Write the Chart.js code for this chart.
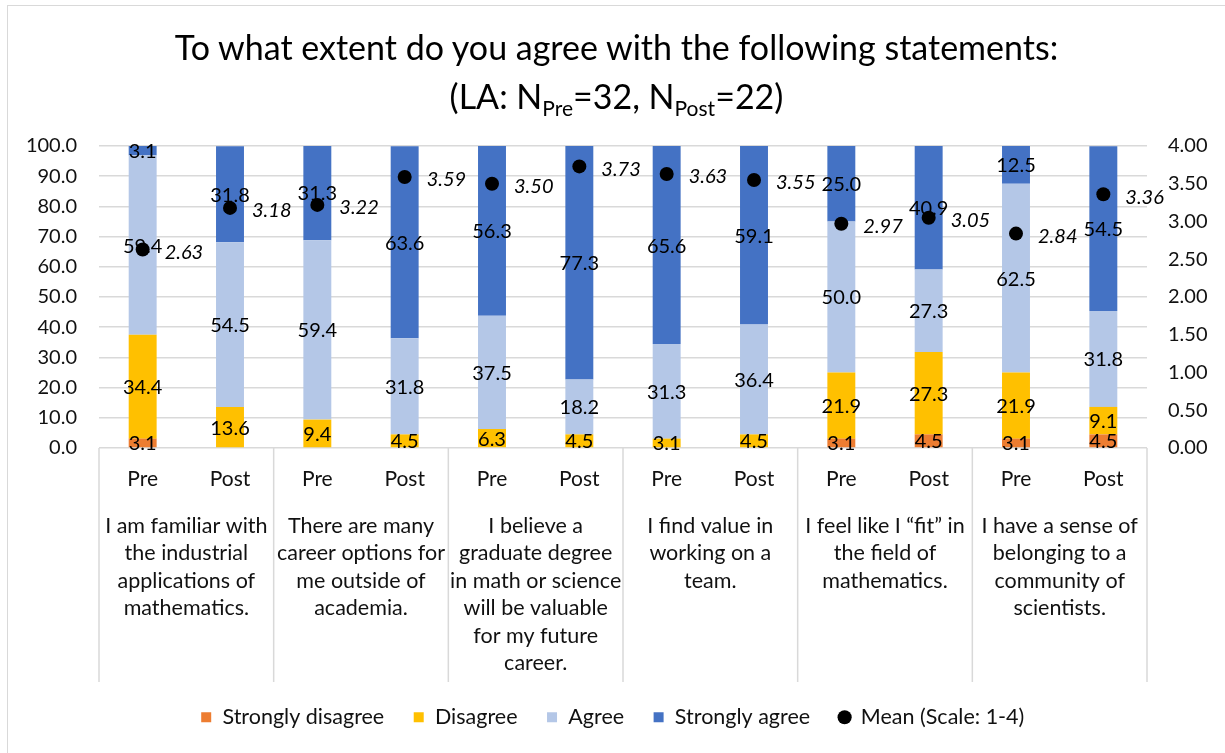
<!DOCTYPE html>
<html>
<head>
<meta charset="utf-8">
<script src="https://cdn.jsdelivr.net/npm/chart.js@4/dist/chart.umd.min.js"></script>
<style>
  html, body { margin: 0; padding: 0; background: #fff; }
  #wrap { position: relative; width: 1225px; height: 753px; overflow: hidden; background: #fff; }
  #frame { position: absolute; left: 7px; top: 5px; width: 1300px; height: 800px;
           border-left: 1.5px solid #d9d9d9; border-top: 1.5px solid #d9d9d9; }
  #title { position: absolute; left: 0; top: 22px; width: 1233px; text-align: center;
           font-family: Lato, sans-serif; font-size: 34px; line-height: 49px; color: #000; }
  #title sub { font-size: 21px; line-height: 0; vertical-align: -7px; }
  canvas { position: absolute; left: 0; top: 0; }
</style>
</head>
<body>
<div id="wrap">
  <div id="frame"></div>
  <canvas id="chart" width="1225" height="753"></canvas>
  <div id="title">To what extent do you agree with the following statements:<br>(LA: N<sub>Pre</sub>=32, N<sub>Post</sub>=22)</div>
</div>
<script>
// Survey phases, one bar per phase within each statement
const categories = ['Pre', 'Post', 'Pre', 'Post', 'Pre', 'Post', 'Pre', 'Post', 'Pre', 'Post', 'Pre', 'Post'];

// Statement text, wrapped into lines, one entry per Pre/Post pair
const statements = [
  ['I am familiar with', 'the industrial', 'applications of', 'mathematics.'],
  ['There are many', 'career options for', 'me outside of', 'academia.'],
  ['I believe a', 'graduate degree', 'in math or science', 'will be valuable', 'for my future', 'career.'],
  ['I find value in', 'working on a', 'team.'],
  ['I feel like I \u201cfit\u201d in', 'the field of', 'mathematics.'],
  ['I have a sense of', 'belonging to a', 'community of', 'scientists.']
];

// Percent of respondents per answer (blank where nobody chose it)
const stronglyDisagree = [3.1, null, null, null, null, null, null, null, 3.1, 4.5, 3.1, 4.5];
const disagree         = [34.4, 13.6, 9.4, 4.5, 6.3, 4.5, 3.1, 4.5, 21.9, 27.3, 21.9, 9.1];
const agree            = [59.4, 54.5, 59.4, 31.8, 37.5, 18.2, 31.3, 36.4, 50.0, 27.3, 62.5, 31.8];
const stronglyAgree    = [3.1, 31.8, 31.3, 63.6, 56.3, 77.3, 65.6, 59.1, 25.0, 40.9, 12.5, 54.5];

// Mean score on the 1-4 scale
const meanScores = [2.63, 3.18, 3.22, 3.59, 3.50, 3.73, 3.63, 3.55, 2.97, 3.05, 2.84, 3.36];

// Axis ticks
const percentTicks = [0, 10, 20, 30, 40, 50, 60, 70, 80, 90, 100];
const meanTicks = [0, 0.5, 1, 1.5, 2, 2.5, 3, 3.5, 4];

const FONT = 'Lato, sans-serif';
Chart.defaults.font.family = FONT;
Chart.defaults.font.size = 20;
Chart.defaults.color = '#111';

// Value labels: bar labels go on after all bars, mean labels after the dots
function drawBarLabels(chart) {
  const ctx = chart.ctx;
  ctx.save();
  ctx.font = '20px ' + FONT;
  ctx.fillStyle = '#000';
  ctx.textAlign = 'center';
  ctx.textBaseline = 'middle';
  chart.data.datasets.forEach((ds, i) => {
    const meta = chart.getDatasetMeta(i);
    if (meta.type !== 'bar' || !chart.isDatasetVisible(i)) return;
    meta.data.forEach((el, j) => {
      const v = ds.data[j];
      if (v == null) return;
      ctx.fillText(v.toFixed(1), el.x, (el.y + el.base) / 2 + 1);
    });
  });
  ctx.restore();
}

const valueLabels = {
  id: 'valueLabels',
  afterDatasetDraw(chart, args) {
    const meta = args.meta;
    if (meta.type === 'bar' && args.index === 0) {
      drawBarLabels(chart);
    } else if (meta.type === 'line') {
      const ctx = chart.ctx;
      const ds = chart.data.datasets[args.index];
      ctx.save();
      ctx.font = 'italic 20px ' + FONT;
      ctx.fillStyle = '#000';
      ctx.textAlign = 'left';
      ctx.textBaseline = 'middle';
      meta.data.forEach((el, j) => {
        ctx.fillText(ds.data[j].toFixed(2), el.x + 22, el.y + 3);
      });
      ctx.restore();
    }
  }
};

// Statement labels under each Pre/Post pair, with divider lines
const groupAxis = {
  id: 'groupAxis',
  afterDraw(chart) {
    const ctx = chart.ctx;
    const xs = chart.scales.x;
    const top = chart.chartArea.bottom;
    const bottom = 682;
    ctx.save();
    ctx.strokeStyle = '#d9d9d9';
    ctx.lineWidth = 1.5;
    for (let k = 0; k <= statements.length; k++) {
      let x;
      if (k === 0) x = xs.left;
      else if (k === statements.length) x = xs.right;
      else x = (xs.getPixelForValue(2 * k - 1) + xs.getPixelForValue(2 * k)) / 2;
      ctx.beginPath();
      ctx.moveTo(x, top);
      ctx.lineTo(x, bottom);
      ctx.stroke();
    }
    ctx.font = '21.5px ' + FONT;
    ctx.fillStyle = '#111';
    ctx.textAlign = 'center';
    ctx.textBaseline = 'middle';
    statements.forEach((lines, g) => {
      const cx = (xs.getPixelForValue(2 * g) + xs.getPixelForValue(2 * g + 1)) / 2;
      lines.forEach((line, n) => {
        ctx.fillText(line, cx, 526 + n * 27.4);
      });
    });
    ctx.restore();
  }
};

const barCommon = { barPercentage: 0.32, categoryPercentage: 1, borderWidth: 0, pointStyle: 'rect', order: 1, yAxisID: 'y' };

new Chart(document.getElementById('chart'), {
  type: 'bar',
  data: {
    labels: categories,
    datasets: [
      Object.assign({ label: 'Strongly disagree', data: stronglyDisagree, backgroundColor: '#ED7D31' }, barCommon),
      Object.assign({ label: 'Disagree', data: disagree, backgroundColor: '#FFC000' }, barCommon),
      Object.assign({ label: 'Agree', data: agree, backgroundColor: '#B4C7E7' }, barCommon),
      Object.assign({ label: 'Strongly agree', data: stronglyAgree, backgroundColor: '#4472C4' }, barCommon),
      {
        type: 'line',
        label: 'Mean (Scale: 1-4)',
        data: meanScores,
        yAxisID: 'y2',
        showLine: false,
        pointStyle: 'circle',
        pointRadius: 7,
        pointHoverRadius: 7,
        pointBorderWidth: 0,
        pointBackgroundColor: '#000',
        backgroundColor: '#000',
        borderColor: '#000',
        order: -1
      }
    ]
  },
  options: {
    responsive: false,
    animation: false,
    layout: { padding: { top: 146, left: 0, right: 0, bottom: 15 } },
    plugins: {
      title: { display: false },
      tooltip: { enabled: false },
      legend: {
        position: 'bottom',
        labels: {
          usePointStyle: true,
          boxWidth: 11,
          boxHeight: 10,
          padding: 29,
          color: '#111',
          font: { size: 21.5, family: FONT },
          sort: (a, b) => a.datasetIndex - b.datasetIndex
        }
      }
    },
    scales: {
      x: {
        stacked: true,
        grid: { display: false, drawTicks: false },
        border: { display: false },
        ticks: { padding: 19, color: '#111', font: { size: 21 } },
        afterFit(scale) { scale.height = 229.5; }
      },
      y: {
        stacked: true,
        position: 'left',
        min: 0,
        max: 100,
        afterBuildTicks(scale) { scale.ticks = percentTicks.map(v => ({ value: v })); },
        ticks: { padding: 22, color: '#111', font: { size: 20 }, callback: v => Number(v).toFixed(1) },
        grid: { color: '#d9d9d9', lineWidth: 1.5, drawTicks: false },
        border: { display: false },
        afterFit(scale) { scale.width = 99; }
      },
      y2: {
        position: 'right',
        min: 0,
        max: 4,
        afterBuildTicks(scale) { scale.ticks = meanTicks.map(v => ({ value: v })); },
        ticks: { padding: 21, color: '#111', font: { size: 20 }, callback: v => Number(v).toFixed(2) },
        grid: { display: false, drawTicks: false },
        border: { display: false },
        afterFit(scale) { scale.width = 78; }
      }
    }
  },
  plugins: [valueLabels, groupAxis]
});
</script>
</body>
</html>
